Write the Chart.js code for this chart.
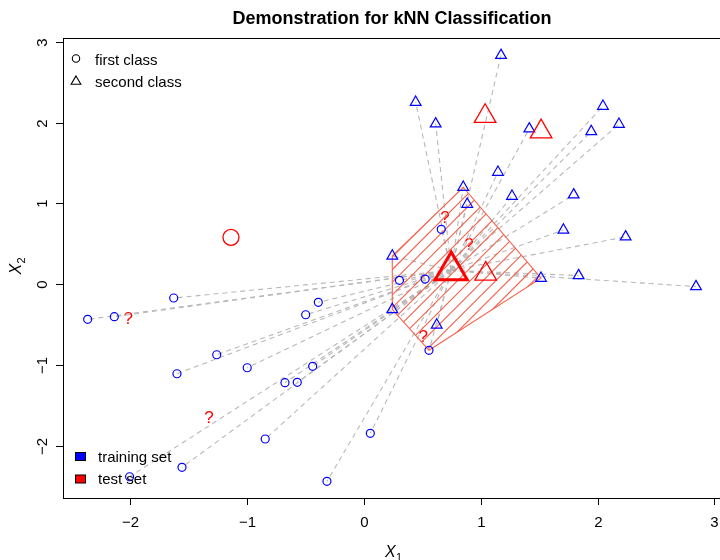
<!DOCTYPE html>
<html>
<head>
<meta charset="utf-8">
<title>Demonstration for kNN Classification</title>
<script src="https://cdn.jsdelivr.net/npm/chart.js@4.4.1/dist/chart.umd.min.js"></script>
<style>
  html, body { margin: 0; padding: 0; background: #fff; overflow: hidden; }
  canvas { display: block; }
</style>
</head>
<body>
<canvas id="knnChart" width="724" height="560"></canvas>
<script>
// training set, first class (circles)
const firstX = [-2.362, -2.134, -1.626, -0.389, -0.497, -1.258, -1.598, -0.997, -0.437, -0.674,
                -0.569, -0.843, -1.555, -2.003, -0.315, 0.056, 0.558, 0.663, 0.305, 0.525];
const firstY = [-0.436, -0.403, -0.172, -0.225, -0.379, -0.874, -1.109, -1.035, -1.017, -1.220,
                -1.215, -1.917, -2.267, -2.384, -2.441, -1.847, -0.819, 0.678, 0.047, 0.063];

// training set, second class (triangles)
const secondX = [1.174, 0.444, 0.615, 1.416, 2.046, 1.946, 2.183, 1.148, 0.851, 0.885,
                 1.268, 1.796, 1.708, 2.240, 0.244, 1.516, 1.838, 2.842, 0.244, 0.624];
const secondY = [2.832, 2.251, 1.984, 1.922, 2.202, 1.889, 1.979, 1.385, 1.199, 0.989,
                 1.088, 1.105, 0.670, 0.585, 0.348, 0.073, 0.106, -0.030, -0.314, -0.506];

// test points already classified
const doneCircleX = [-1.136];
const doneCircleY = [0.579];
const doneTriangleX = [1.038, 1.517, 1.043];
const doneTriangleY = [2.078, 1.887, 0.126];

// test point being classified in this frame
const currentX = [0.748];
const currentY = [0.17];

// test points not classified yet
const pendingX = [-2.014, -1.324, 0.695, 0.900, 0.509];
const pendingY = [-0.423, -1.641, 0.827, 0.496, -0.642];

const k = 10;
const xTicks = [-2, -1, 0, 1, 2, 3];
const yTicks = [-2, -1, 0, 1, 2, 3];

const FONT = "'Liberation Sans', Arial, Helvetica, sans-serif";
const BLUE = 'rgb(0,0,255)';
const RED = 'rgb(255,0,0)';
const HULL = 'rgb(246,96,76)';
const NONE = 'rgba(0,0,0,0)';

function toPoints(xs, ys) {
  return xs.map((x, i) => ({ x: x, y: ys[i] }));
}

const training = toPoints(firstX, firstY).concat(toPoints(secondX, secondY));
const current = { x: currentX[0], y: currentY[0] };

// the k training points closest to the current test point
function nearest(points, p, n) {
  const d = q => Math.hypot(q.x - p.x, q.y - p.y);
  return points.slice().sort((a, b) => d(a) - d(b)).slice(0, n);
}

// monotone chain convex hull
function convexHull(pts) {
  const s = pts.slice().sort((a, b) => a.x - b.x || a.y - b.y);
  const cross = (o, a, b) => (a.x - o.x) * (b.y - o.y) - (a.y - o.y) * (b.x - o.x);
  const half = list => {
    const out = [];
    list.forEach(p => {
      while (out.length >= 2 && cross(out[out.length - 2], out[out.length - 1], p) <= 0) out.pop();
      out.push(p);
    });
    out.pop();
    return out;
  };
  return half(s).concat(half(s.slice().reverse()));
}

const hull = convexHull(nearest(training, current, k));
hull.push(hull[0]);

const datasets = [
  {
    data: [current], pointStyle: 'triangle', pointRadius: 18.5, pointBorderWidth: 3,
    pointBorderColor: RED, pointBackgroundColor: NONE, order: 0
  },
  {
    data: toPoints(doneTriangleX, doneTriangleY), pointStyle: 'triangle', pointRadius: 12.5,
    pointBorderWidth: 1.3, pointBorderColor: RED, pointBackgroundColor: NONE, order: 1
  },
  {
    data: toPoints(doneCircleX, doneCircleY), pointStyle: 'circle', pointRadius: 8,
    pointBorderWidth: 1.3, pointBorderColor: RED, pointBackgroundColor: NONE, order: 1
  },
  {
    data: toPoints(firstX, firstY), pointStyle: 'circle', pointRadius: 4,
    pointBorderWidth: 1.2, pointBorderColor: BLUE, pointBackgroundColor: NONE, order: 2
  },
  {
    data: toPoints(secondX, secondY), pointStyle: 'triangle', pointRadius: 6.2,
    pointBorderWidth: 1.2, pointBorderColor: BLUE, pointBackgroundColor: NONE, order: 2
  },
  {
    label: 'hull', type: 'line', data: hull, showLine: true, borderColor: HULL, borderWidth: 1.1,
    fill: false, tension: 0, pointRadius: 0, order: 4
  }
];

// dashed distance lines from the current test point to every training point
training.forEach(p => {
  datasets.push({
    type: 'line', data: [current, p], showLine: true, borderColor: '#b8b8b8',
    borderWidth: 1.1, borderDash: [5, 4], fill: false, pointRadius: 0, order: 5
  });
});

function tickText(v) {
  return v < 0 ? '\u2212' + Math.abs(v) : String(v);
}

const frame = {
  id: 'frame',
  beforeDatasetsDraw(chart) {
    const { ctx, scales: { x, y } } = chart;
    ctx.save();
    ctx.fillStyle = RED;
    ctx.font = '17px ' + FONT;
    ctx.textAlign = 'center';
    ctx.textBaseline = 'alphabetic';
    pendingX.forEach((v, i) => {
      ctx.fillText('?', x.getPixelForValue(v), y.getPixelForValue(pendingY[i]) + 6);
    });
    ctx.restore();
  },
  // 45 degree hatching inside the neighbour hull
  afterDatasetDraw(chart, args) {
    if (chart.data.datasets[args.index].label !== 'hull') return;
    const { ctx, scales: { x, y } } = chart;
    const pts = hull.map(p => [x.getPixelForValue(p.x), y.getPixelForValue(p.y)]);
    const path = new Path2D();
    pts.forEach((p, i) => (i ? path.lineTo(p[0], p[1]) : path.moveTo(p[0], p[1])));
    path.closePath();
    const xs = pts.map(p => p[0]), ys = pts.map(p => p[1]);
    const x0 = Math.min(...xs) - 2, x1 = Math.max(...xs) + 2;
    const cMin = Math.min(...xs) + Math.min(...ys), cMax = Math.max(...xs) + Math.max(...ys);
    const step = 9 * Math.SQRT2;
    ctx.save();
    ctx.clip(path);
    ctx.strokeStyle = HULL;
    ctx.lineWidth = 1.1;
    ctx.beginPath();
    for (let c = Math.floor(cMin / step) * step; c <= cMax; c += step) {
      ctx.moveTo(x0, c - x0);
      ctx.lineTo(x1, c - x1);
    }
    ctx.stroke();
    ctx.restore();
  },
  afterDraw(chart) {
    const { ctx, chartArea: a, scales: { x, y } } = chart;
    ctx.save();
    ctx.strokeStyle = '#000';
    ctx.fillStyle = '#000';
    ctx.lineWidth = 1;
    ctx.strokeRect(a.left + 0.5, a.top + 0.5, a.right - a.left, a.bottom - a.top);

    ctx.font = '15px ' + FONT;
    ctx.textAlign = 'center';
    ctx.textBaseline = 'alphabetic';
    xTicks.forEach(v => {
      const px = Math.round(x.getPixelForValue(v)) + 0.5;
      ctx.beginPath();
      ctx.moveTo(px, a.bottom);
      ctx.lineTo(px, a.bottom + 7);
      ctx.stroke();
      ctx.fillText(tickText(v), px, a.bottom + 29);
    });
    yTicks.forEach(v => {
      const py = Math.round(y.getPixelForValue(v)) + 0.5;
      ctx.beginPath();
      ctx.moveTo(a.left - 7, py);
      ctx.lineTo(a.left, py);
      ctx.stroke();
      ctx.save();
      ctx.translate(a.left - 16.5, py);
      ctx.rotate(-Math.PI / 2);
      ctx.fillText(tickText(v), 0, 0);
      ctx.restore();
    });

    // title
    ctx.font = 'bold 18px ' + FONT;
    ctx.fillText('Demonstration for kNN Classification', (a.left + a.right) / 2, 23.5);

    // axis titles
    ctx.textAlign = 'left';
    ctx.font = 'italic 16px ' + FONT;
    ctx.fillText('X', 385, 557);
    ctx.font = '11px ' + FONT;
    ctx.fillText('1', 396, 561);

    ctx.save();
    ctx.translate(21, 266);
    ctx.rotate(-Math.PI / 2);
    ctx.font = 'italic 16px ' + FONT;
    ctx.fillText('X', -8.5, 0);
    ctx.font = '11px ' + FONT;
    ctx.fillText('2', 2.5, 4);
    ctx.restore();

    // legend: classes
    ctx.font = '15px ' + FONT;
    ctx.lineWidth = 1.1;
    ctx.beginPath();
    ctx.arc(76, 58.5, 3.7, 0, Math.PI * 2);
    ctx.stroke();
    const r = 5.6, cy = 81.5;
    ctx.beginPath();
    ctx.moveTo(76, cy - r);
    ctx.lineTo(76 + r * Math.sqrt(3) / 2, cy + r / 2);
    ctx.lineTo(76 - r * Math.sqrt(3) / 2, cy + r / 2);
    ctx.closePath();
    ctx.stroke();
    ctx.fillText('first class', 95, 64.5);
    ctx.fillText('second class', 95, 87);

    // legend: sets
    ctx.lineWidth = 1;
    [['training set', BLUE, 452.5, 461.5], ['test set', RED, 475, 484]].forEach(item => {
      ctx.fillStyle = item[1];
      ctx.fillRect(75.5, item[2], 10, 8);
      ctx.strokeRect(75.5, item[2], 10, 8);
      ctx.fillStyle = '#000';
      ctx.fillText(item[0], 98, item[3]);
    });
    ctx.restore();
  }
};

new Chart(document.getElementById('knnChart'), {
  type: 'scatter',
  data: { datasets: datasets },
  options: {
    responsive: false,
    animation: false,
    events: [],
    layout: { autoPadding: false, padding: { left: 63, top: 38, right: 3, bottom: 62 } },
    scales: {
      x: { type: 'linear', min: -2.573, max: 3.056, display: false },
      y: { type: 'linear', min: -2.647, max: 3.046, display: false }
    },
    plugins: {
      legend: { display: false },
      tooltip: { enabled: false }
    }
  },
  plugins: [frame]
});
</script>
</body>
</html>
